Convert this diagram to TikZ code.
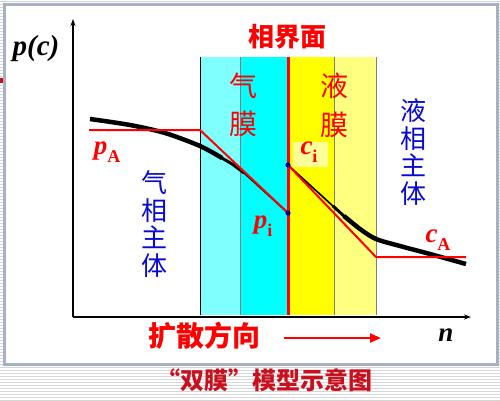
\documentclass[tikz,border=0pt]{standalone}
\usepackage{fontspec}
\setmainfont{Liberation Serif}
\newfontfamily\cjk{Noto Sans CJK SC}
\usetikzlibrary{arrows.meta}
\definecolor{lcyan}{HTML}{80FFFF}
\definecolor{fcyan}{HTML}{00FFFF}
\definecolor{fyellow}{HTML}{FFFF00}
\definecolor{lyellow}{HTML}{FFFF80}
\definecolor{cibox}{HTML}{FFFF99}
\definecolor{panelborder}{HTML}{A6B2C2}
\definecolor{stripe}{HTML}{D6D6D6}
\definecolor{mainblue}{HTML}{0A0ACC}
\definecolor{titlered}{HTML}{C8101E}
\definecolor{dotblue}{HTML}{0000A0}
\definecolor{pred}{HTML}{FF0000}
\tikzset{
  cjkred/.style={text=pred,font=\cjk\fontsize{28}{30}\selectfont,inner sep=0pt},
  cjkredb/.style={text=pred,font=\cjk\bfseries\fontsize{26}{28}\selectfont,inner sep=0pt},
  vblue/.style={text=mainblue,font=\cjk\fontsize{26}{27.5}\selectfont,align=center,inner sep=0pt},
  latinlab/.style={font=\bfseries\itshape\fontsize{27}{27}\selectfont,inner sep=0pt},
  eqline/.style={pred,line width=2pt,line join=round},
  profthick/.style={black,line width=4.5pt},
  profthin/.style={black,line width=1.6pt},
  axisline/.style={black,line width=1.2pt,-{Stealth[length=7pt,width=5pt]}},
  filmline/.style={gray,line width=0.8pt},
}
\newcommand{\sublab}[2]{#1\raisebox{-0.28em}{\upshape\fontsize{18}{18}\selectfont #2}}
\begin{document}
\begin{tikzpicture}[x=1pt,y=-1pt]
\useasboundingbox (0,0) rectangle (500,400);
% striped background
\fill[white] (0,0) rectangle (500,400);
\foreach \yy in {1,4,...,400} {\draw[stripe,line width=1pt] (0,\yy) -- (500,\yy);}
% panel
\fill[white] (4,4) rectangle (497,364);
\draw[panelborder,line width=3pt] (4,4) rectangle (497,364);
\fill[titlered] (0,78) rectangle (2.5,83);
% films
\fill[lcyan] (200,57) rectangle (240,315);
\fill[fcyan] (240,57) rectangle (288,315);
\fill[fyellow] (288,57) rectangle (334,315);
\fill[lyellow] (334,57) rectangle (376,315);
\draw[black,line width=1pt] (200,57) -- (200,315);
\draw[filmline] (240,57) -- (240,315);
\draw[filmline] (334,57) -- (334,315);
\draw[filmline] (376,57) -- (376,315);
% axes
\coordinate (O) at (73,317);
\coordinate (ytop) at (73,19);
\coordinate (xend) at (471,317);
\draw[axisline] (O) -- (ytop);
\draw[axisline] (O) -- (xend);
% profile coordinates
\coordinate (pa0) at (89,130);
\coordinate (pa1) at (200,130);
\coordinate (pi) at (288,213);
\coordinate (ci) at (288,165);
\coordinate (ca0) at (376,257);
\coordinate (ca1) at (466,257);
\coordinate (itop) at (288,57);
\coordinate (ibot) at (288,315);
% black profile
\draw[profthick,line cap=butt] plot[smooth] coordinates {(90,119) (130,125) (165,133) (200,146) (222,158)};
\draw[black,line width=3pt] plot[smooth] coordinates {(220,157) (232,164) (244,173)};
\draw[profthin] (243,172) -- (pi);
\draw[profthin] (ci) -- (334,207);
\draw[black,line width=3pt] (333,206) -- (345,217);
\draw[profthick] plot[smooth] coordinates {(344,216) (360,229) (376,239) (400,246) (430,254) (466,264)};
% interface
\draw[pred,line width=3pt] (itop) -- (ibot);
% equilibrium lines
\draw[eqline] (pa0) -- (pa1) -- (pi);
\draw[eqline] (ci) -- (ca0) -- (ca1);
\fill[dotblue] (pi) circle (2.6);
\fill[dotblue] (ci) circle (2.6);
% labels
\node[cjkredb] (jm) at (287,37) {相界面};
\node[cjkred] (q1) at (243,86) {气};
\node[cjkred] (q2) at (243,124) {膜};
\node[cjkred] (y1) at (334,86) {液};
\node[cjkred] (y2) at (334,125) {膜};
\node[vblue] (lzt) at (413,152) {液\\相\\主\\体};
\node[vblue] (qzt) at (154,224) {气\\相\\主\\体};
\node[latinlab,font=\bfseries\itshape\fontsize{29}{29}\selectfont] (pc) at (36,49) {p(c)};
\node[latinlab] (nn) at (446,335) {n};
\node[latinlab,text=pred] (pA) at (107,152) {\sublab{p}{A}};
\node[latinlab,text=pred] (piL) at (263,226) {\sublab{p}{i}};
\node[fill=cibox,minimum width=35pt,minimum height=25pt,inner sep=0pt] (cib) at (310.5,154.5) {};
\node[latinlab,text=pred] (ciL) at (309,152) {\sublab{c}{i}};
\node[latinlab,text=pred] (cAL) at (438,240) {\sublab{c}{A}};
\node[cjkredb,font=\cjk\bfseries\fontsize{28}{28}\selectfont] (ks) at (204,336) {扩散方向};
\coordinate (ar0) at (284,338);
\coordinate (ar1) at (381,338);
\draw[pred,line width=2pt,-{Triangle[length=11pt,width=9pt]}] (ar0) -- (ar1);
\node[text=titlered,font=\cjk\bfseries\fontsize{24}{24}\selectfont,inner sep=0pt] (title) at (264,380) {“双膜”模型示意图};
\end{tikzpicture}
\end{document}
